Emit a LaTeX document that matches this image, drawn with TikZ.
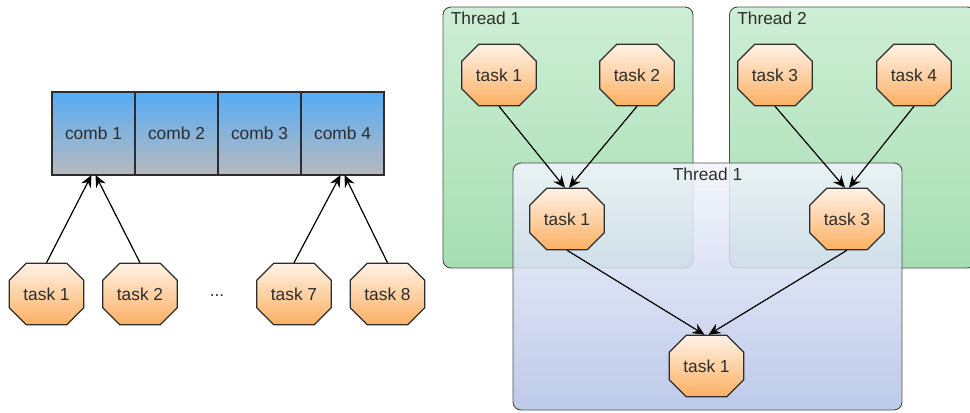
\documentclass[tikz,border=0pt]{standalone}
\usepackage{fontspec}
\setmainfont{Liberation Sans}
\usetikzlibrary{positioning}
\usetikzlibrary{arrows.meta}
\usetikzlibrary{shapes}
\definecolor{taskTop}{RGB}{255,242,230}
\definecolor{taskBottom}{RGB}{252,176,98}
\definecolor{combTop}{RGB}{86,172,246}
\definecolor{combBottom}{RGB}{184,186,190}
\definecolor{greenTop}{RGB}{206,238,213}
\definecolor{greenMid}{RGB}{174,227,186}
\definecolor{greenBottom}{RGB}{166,222,178}
\definecolor{blueTop}{RGB}{242,245,252}
\definecolor{blueMid}{RGB}{196,207,236}
\definecolor{blueBottom}{RGB}{178,193,229}
\definecolor{lineGray}{RGB}{45,45,45}
\tikzset{
        treenode/.style={align=center,inner sep=0pt,font=\fontsize{13}{15}\selectfont,text=lineGray},
        % Task nodes
        node_task/.style={treenode, chamfered rectangle, chamfered rectangle sep=8pt, draw=lineGray, line width=0.9pt, top color=taskTop, bottom color=taskBottom, minimum width=56pt, minimum height=46pt},
        % Comb cells
        node_comb/.style={treenode, rectangle, outer sep=0pt, draw=lineGray, line width=0.9pt, top color=combTop, bottom color=combBottom, minimum width=62.25pt, minimum height=62.25pt},
        % Thread boxes
        box_green/.style={rectangle, rounded corners=6pt, draw=lineGray!85, line width=0.7pt, top color=greenTop, middle color=greenMid, bottom color=greenBottom},
        box_blue/.style={rectangle, rounded corners=6pt, draw=lineGray!85, line width=0.7pt, top color=blueTop, middle color=blueMid, bottom color=blueBottom, fill opacity=0.86},
        % Thread titles
        node_title/.style={treenode, inner sep=0pt},
        % Connectors
        link/.style={draw=black, line width=0.9pt, -{Stealth[length=9pt,width=8pt,inset=3pt]}}
}

\begin{document}
\begin{tikzpicture}[x=0.75pt, y=-0.75pt]
            \useasboundingbox (0,0) rectangle (970,412);

            % left: combs and tasks
            \node[node_comb] (comb1) at (93.5,133.5) {comb 1};
            \node[node_comb, right=0pt of comb1] (comb2) {comb 2};
            \node[node_comb, right=0pt of comb2] (comb3) {comb 3};
            \node[node_comb, right=0pt of comb3] (comb4) {comb 4};

            \node[node_task] (lt1) at (46.5,294) {task 1};
            \node[node_task] (lt2) at (140,294) {task 2};
            \node[treenode] (dots) at (217,296) {...};
            \node[node_task] (lt7) at (294,294) {task 7};
            \node[node_task] (lt8) at (387.5,294) {task 8};

            \draw[link] (lt1.north) -- ([xshift=-1.5pt]comb1.south);
            \draw[link] (lt2.north) -- ([xshift=1.5pt]comb1.south);
            \draw[link] (lt7.north) -- ([xshift=-1.5pt]comb4.south);
            \draw[link] (lt8.north) -- ([xshift=1.5pt]comb4.south);

            % right: threads
            \node[box_green, minimum width=187.5pt, minimum height=195.75pt] (thread_a) at (568,137.5) {};
            \node[box_green, minimum width=184.5pt, minimum height=195.75pt] (thread_b) at (852.5,137.5) {};
            \node[box_blue, minimum width=291.75pt, minimum height=185.25pt] (thread_c) at (707.5,286.5) {};

            \node[node_title, anchor=north west] at ([xshift=6pt,yshift=-4pt]thread_a.north west) {Thread 1};
            \node[node_title, anchor=north west] at ([xshift=6pt,yshift=-4pt]thread_b.north west) {Thread 2};
            \node[node_title, anchor=north] at ([yshift=-4pt]thread_c.north) {Thread 1};

            \node[node_task] (rt1) at (499,75) {task 1};
            \node[node_task] (rt2) at (637,75) {task 2};
            \node[node_task] (rt3) at (775,75) {task 3};
            \node[node_task] (rt4) at (914,75) {task 4};
            \node[node_task] (mt1) at (567,219) {task 1};
            \node[node_task] (mt3) at (847,219) {task 3};
            \node[node_task] (bt1) at (706.5,366) {task 1};

            \draw[link] (rt1.south) -- ([xshift=-1.5pt]mt1.north);
            \draw[link] (rt2.south) -- ([xshift=1.5pt]mt1.north);
            \draw[link] (rt3.south) -- ([xshift=-1.5pt]mt3.north);
            \draw[link] (rt4.south) -- ([xshift=1.5pt]mt3.north);
            \draw[link] (mt1.south) -- ([xshift=-1.5pt]bt1.north);
            \draw[link] (mt3.south) -- ([xshift=1.5pt]bt1.north);
        \end{tikzpicture}
\end{document}
